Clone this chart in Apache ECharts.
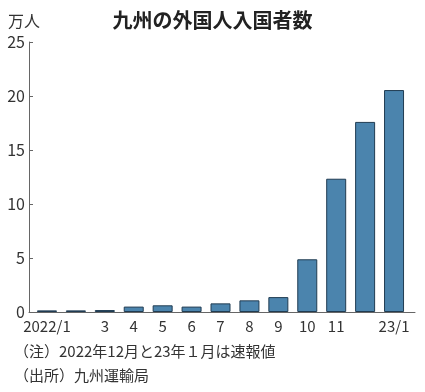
<!DOCTYPE html>
<html><head><meta charset="utf-8">
<script src="https://cdn.jsdelivr.net/npm/echarts@6/dist/echarts.min.js"></script>
<style>html,body{margin:0;padding:0;background:#fff}#c{width:425px;height:392px}</style>
</head><body><div id="c"></div>
<script>
const categories = ['2022/1','2','3','4','5','6','7','8','9','10','11','12','23/1'];
const xTickLabels = ['2022/1','','3','4','5','6','7','8','9','10','11','','23/1'];
const values = [0.15, 0.15, 0.18, 0.5, 0.62, 0.5, 0.8, 1.08, 1.38, 4.88, 12.34, 17.6, 20.55];
const yTicks = [0, 5, 10, 15, 20, 25];
const titleText = '九州の外国人入国者数';
const unitText = '万人';
const note1 = '（注）2022年12月と23年１月は速報値';
const note2 = '（出所）九州運輸局';

const FONT = '"Noto Sans CJK JP", "Noto Sans", sans-serif';
const chart = echarts.init(document.getElementById('c'), null, {renderer:'canvas'});
chart.setOption({
  animation: false,
  backgroundColor: '#fff',
  title: {text: titleText, left: 'center', top: 5,
    textStyle: {fontFamily: FONT, fontSize: 20, fontWeight: 'bold', color: '#222'}},
  graphic: [
    {type:'text', left: 8, top: 13, style:{text: unitText, font: '16px ' + FONT, fill:'#333'}},
    {type:'text', left: 14, top: 344, style:{text: note1, font: '15px ' + FONT, fill:'#333'}},
    {type:'text', left: 14, top: 368, style:{text: note2, font: '15px ' + FONT, fill:'#333'}}
  ],
  grid: [
    {left: 29, right: 10, top: 42, bottom: 80},
    {left: 32.5, right: 16.5, top: 42, bottom: 80}
  ],
  xAxis: [
    {type:'value', gridIndex:0, min:0, max:1, axisLine:{show:true, lineStyle:{color:'#666', width:1}},
      axisTick:{show:false}, axisLabel:{show:false}, splitLine:{show:false}},
    {type:'category', gridIndex:1, data: categories, axisLine:{show:false}, axisTick:{show:false},
      axisLabel:{interval:0, margin:7, color:'#333', fontFamily: FONT, fontSize:15,
        formatter:(v,i)=>xTickLabels[i]}}
  ],
  yAxis: [
    {type:'value', gridIndex:0, min: yTicks[0], max: yTicks[yTicks.length-1], interval: 5,
      axisLine:{show:true, lineStyle:{color:'#666', width:1}},
      axisTick:{show:true, inside:true, length:4, lineStyle:{color:'#666'}},
      axisLabel:{margin:4, color:'#333', fontFamily: FONT, fontSize:16},
      splitLine:{show:false}},
    {type:'value', gridIndex:1, min: yTicks[0], max: yTicks[yTicks.length-1], show:false}
  ],
  series: [{
    type:'bar', xAxisIndex:1, yAxisIndex:1, data: values, barWidth: 20,
    itemStyle:{color:'#4b84ad', borderColor:'#203c52', borderWidth:1}
  }]
});
</script></body></html>
